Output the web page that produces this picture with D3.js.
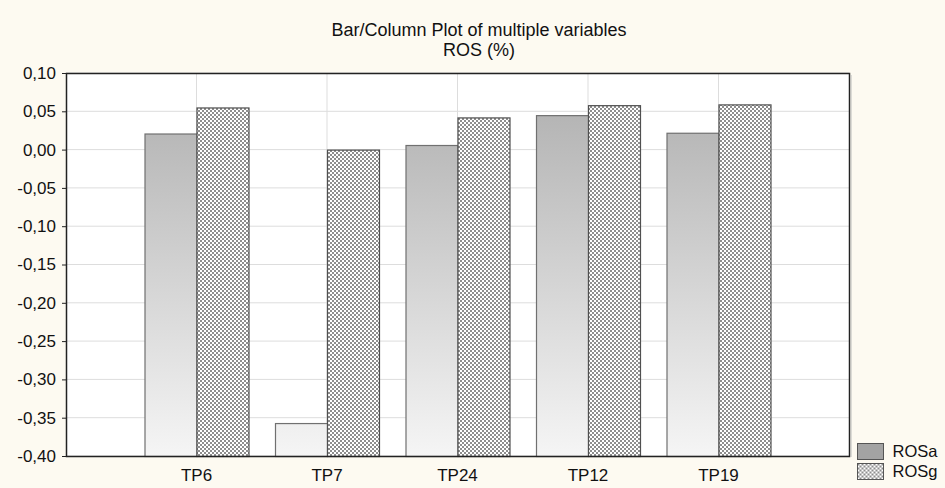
<!DOCTYPE html>
<html>
<head>
<meta charset="utf-8">
<script src="https://cdn.jsdelivr.net/npm/d3@7"></script>
<style>
  body { margin: 0; background: #fdfaf1; }
  svg { display: block; font-family: "Liberation Sans", Arial, sans-serif; }
</style>
</head>
<body>
<svg width="945" height="488"></svg>
<script>
var categories = ["TP6", "TP7", "TP24", "TP12", "TP19"];
var seriesNames = ["ROSa", "ROSg"];
var rosa = [0.021, -0.357, 0.006, 0.045, 0.022];
var rosg = [0.055, 0.000, 0.042, 0.058, 0.059];
var yTicks = [0.10, 0.05, 0.00, -0.05, -0.10, -0.15, -0.20, -0.25, -0.30, -0.35, -0.40];

var svg = d3.select("svg"),
    width = 945,
    height = 488;

var m = {left: 66, right: 849, top: 73, bottom: 456};

var x = d3.scaleLinear().domain([0, categories.length + 1]).range([m.left, m.right]);
var y = d3.scaleLinear().domain([-0.40, 0.10]).range([m.bottom, m.top]);
var barW = 52;

var defs = svg.append("defs");
var grad = defs.append("linearGradient")
    .attr("id", "gradA")
    .attr("gradientUnits", "userSpaceOnUse")
    .attr("x1", 0).attr("x2", 0)
    .attr("y1", m.top).attr("y2", m.bottom);
grad.append("stop").attr("offset", "0%").attr("stop-color", "#adadad");
grad.append("stop").attr("offset", "100%").attr("stop-color", "#f5f5f5");

var pat = defs.append("pattern")
    .attr("id", "hatch")
    .attr("patternUnits", "userSpaceOnUse")
    .attr("width", 4).attr("height", 4);
pat.append("rect").attr("width", 4).attr("height", 4).attr("fill", "#ffffff");
pat.append("rect").attr("x", 0).attr("y", 0).attr("width", 2).attr("height", 2).attr("fill", "#8e8e8e");
pat.append("rect").attr("x", 2).attr("y", 2).attr("width", 2).attr("height", 2).attr("fill", "#8e8e8e");

// plot background
svg.append("rect")
    .attr("x", m.left).attr("y", m.top)
    .attr("width", m.right - m.left).attr("height", m.bottom - m.top)
    .attr("fill", "#ffffff");

// grid
svg.append("g").selectAll("line.h")
  .data(yTicks)
  .enter().append("line")
    .attr("x1", m.left).attr("x2", m.right)
    .attr("y1", function(d) { return y(d); })
    .attr("y2", function(d) { return y(d); })
    .attr("stroke", "#dddddd");
svg.append("g").selectAll("line.v")
  .data(categories)
  .enter().append("line")
    .attr("x1", function(d, i) { return x(i + 1); })
    .attr("x2", function(d, i) { return x(i + 1); })
    .attr("y1", m.top).attr("y2", m.bottom)
    .attr("stroke", "#dddddd");

// bars
var series = [
  {name: "ROSa", values: rosa, fill: "url(#gradA)", off: -1, stroke: "#707070"},
  {name: "ROSg", values: rosg, fill: "url(#hatch)", off: 0, stroke: "#505050"}
];
series.forEach(function(s) {
  svg.append("g").selectAll("rect")
    .data(s.values)
    .enter().append("rect")
      .attr("x", function(d, i) { return x(i + 1) + s.off * barW + 0.5; })
      .attr("y", function(d) { return y(d) + 0.5; })
      .attr("width", barW)
      .attr("height", function(d) { return y(-0.40) - y(d); })
      .attr("fill", s.fill)
      .attr("stroke", s.stroke)
      .attr("stroke-width", 1.2);
});

// frame
svg.append("rect")
    .attr("x", m.left + 0.5).attr("y", m.top + 0.5)
    .attr("width", m.right - m.left).attr("height", m.bottom - m.top)
    .attr("fill", "none")
    .attr("stroke", "#222")
    .attr("stroke-width", 1.5);
svg.append("line")
    .attr("x1", m.right + 2).attr("x2", m.right + 2)
    .attr("y1", m.top + 2).attr("y2", m.bottom + 1)
    .attr("stroke", "#bbb");

// y axis
var yAxis = svg.append("g")
    .attr("transform", "translate(" + m.left + ",0)")
    .call(d3.axisLeft(y).tickValues(yTicks).tickSize(4).tickPadding(6)
      .tickFormat(function(d) { return d3.format(".2f")(d).replace(".", ",").replace("−", "-"); }));
yAxis.select(".domain").remove();
yAxis.selectAll("line").attr("stroke", "#222");
yAxis.selectAll("text").attr("font-size", 17).attr("font-family", "Liberation Sans, Arial, sans-serif").attr("fill", "#111");

// x labels
svg.append("g").selectAll("text")
  .data(categories)
  .enter().append("text")
    .attr("x", function(d, i) { return x(i + 1); })
    .attr("y", 481)
    .attr("text-anchor", "middle")
    .attr("font-size", 17)
    .attr("fill", "#111")
    .text(function(d) { return d; });

// titles
svg.append("text").attr("x", 479).attr("y", 36).attr("text-anchor", "middle")
    .attr("font-size", 18).attr("fill", "#111").text("Bar/Column Plot of multiple variables");
svg.append("text").attr("x", 479).attr("y", 56).attr("text-anchor", "middle")
    .attr("font-size", 18).attr("fill", "#111").text("ROS (%)");

// legend
var legend = svg.append("g").selectAll("g")
  .data(series)
  .enter().append("g")
    .attr("transform", function(d, i) { return "translate(857.5," + (443.5 + i * 20) + ")"; });
legend.append("rect")
    .attr("width", 26).attr("height", 16)
    .attr("fill", function(d) { return d.name === "ROSa" ? "#a3a3a3" : "url(#hatch)"; })
    .attr("stroke", "#555");
legend.append("text")
    .attr("x", 35).attr("y", 13.5)
    .attr("font-size", 16.5).attr("fill", "#111")
    .text(function(d) { return d.name; });
</script>
</body>
</html>
